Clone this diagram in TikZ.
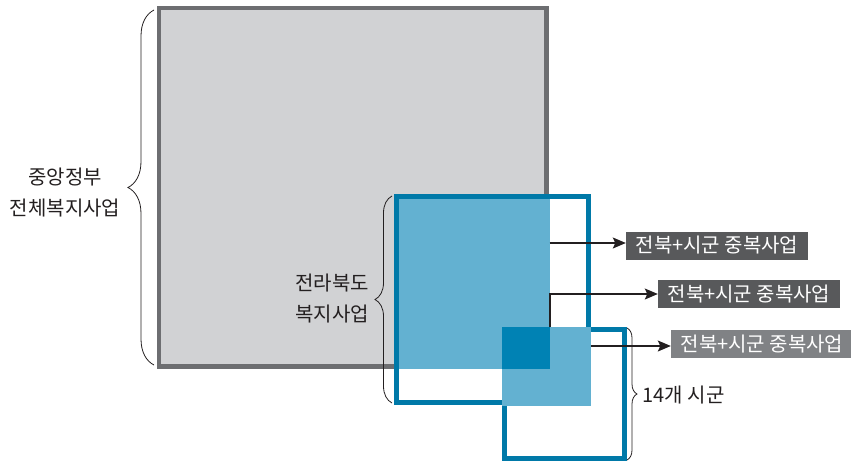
\documentclass[tikz,border=0pt]{standalone}
\usepackage{fontspec}
\setmainfont{Noto Sans CJK KR}
\usetikzlibrary{positioning,arrows.meta,calc,decorations.pathreplacing}
\definecolor{panel}{HTML}{D1D2D4}
\definecolor{panelline}{HTML}{6D6E71}
\definecolor{sea}{HTML}{0079A8}
\definecolor{sealight}{HTML}{63B1D1}
\definecolor{seadark}{HTML}{0082B4}
\definecolor{tag1}{HTML}{58595B}
\definecolor{tag2}{HTML}{808285}
\definecolor{ink}{HTML}{231F20}

\begin{document}
\begin{tikzpicture}[x=1pt,y=-1pt,
  tagbox/.style={fill=tag1, text=white, minimum width=182pt, minimum height=28pt, inner sep=0pt, font=\fontsize{20}{22}\selectfont},
  sidetext/.style={text=ink, align=center, font=\fontsize{20}{31}\selectfont},
  bracket/.style={decorate, decoration={brace, amplitude=#1}, draw=ink, line width=0.8pt},
  pointer/.style={-{Stealth[length=13pt,width=11pt,inset=2.5pt]}, draw=ink, line width=1.2pt}]
\useasboundingbox (0,0) rectangle (851,464);
% central government square
\draw[fill=panel, draw=panelline, line width=4.5pt] (159,8) rectangle (546.5,366.5);
% province and city squares
\draw[draw=sea, line width=5pt] (396.5,196.5) rectangle (588.5,402.5);
\draw[draw=sea, line width=5pt] (504.5,329.8) rectangle (624.8,458.5);
\fill[sealight] (399,199) rectangle (549.5,369);
\fill[sealight] (502,327) rectangle (591,405.5);
\fill[seadark] (502,327) rectangle (549.5,369);
% braces and their texts
\draw[bracket=26pt] (154,365) -- (154,10);
\draw[bracket=17pt] (392,403) -- (392,196);
\draw[bracket=10pt] (627,328) -- (627,460);
\node[sidetext] (gov) at (65,193) {중앙정부\\전체복지사업};
\node[sidetext] (prov) at (332,299) {전라북도\\복지사업};
\node[sidetext, anchor=west] (city) at (639,395) {14개 시군};
% overlap tags
\node[tagbox] (tagA) at (717,245.5) {전북+시군 중복사업};
\node[tagbox] (tagB) at (749,294) {전북+시군 중복사업};
\node[tagbox, fill=tag2] (tagC) at (762,344) {전북+시군 중복사업};
\coordinate (fromA) at (549.5,243);
\coordinate (fromB) at (550,327);
\coordinate (fromC) at (591,346);
\draw[pointer] (fromA) -- (fromA -| tagA.west);
\draw[pointer] (fromB) |- (tagB.west);
\draw[pointer] (fromC) -- (fromC -| tagC.west);
\end{tikzpicture}
\end{document}
